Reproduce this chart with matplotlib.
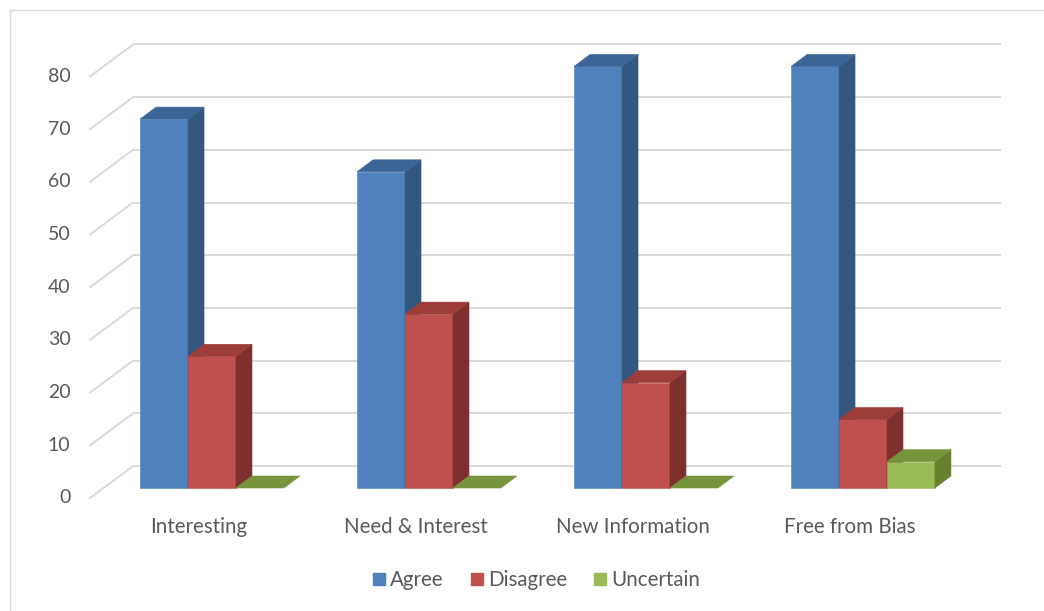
import matplotlib.pyplot as plt
from matplotlib.patches import Polygon
from matplotlib.lines import Line2D

categories = ['Interesting', 'Need & Interest', 'New Information', 'Free from Bias']
series_names = ['Agree', 'Disagree', 'Uncertain']
agree = [70, 60, 80, 80]
disagree = [25, 33, 20, 13]
uncertain = [0, 0, 0, 5]
yticks = [0, 10, 20, 30, 40, 50, 60, 70, 80]

# front, top, side shades for each series
colors = {
    'Agree': ('#4F81BD', '#3C6597', '#34577F'),
    'Disagree': ('#C0504D', '#9C3D3A', '#7E302E'),
    'Uncertain': ('#9BBB59', '#77933C', '#66802F'),
}

plt.rcParams['font.family'] = ['Lato', 'DejaVu Sans']
txt_color = '#595959'
grid_color = '#D9D9D9'
fs = 14.8

fig = plt.figure(figsize=(10.44, 6.11), dpi=100)
ax = fig.add_axes([0, 0, 1, 1])
ax.set_xlim(-0.977, 3.834)
ax.set_ylim(-23.34, 92.6)
ax.axis('off')

bar_w = 0.221
# oblique depth offsets (x in category units, y in value units)
bar_dx, bar_dy = 0.0737, 2.276
front_dx, front_dy = -0.0618, -1.896
back_dx, back_dy = 0.1364, 4.172
x_left, x_right = -0.5, 3.5

# back wall gridlines and left wall lines
for t in yticks:
    ax.plot([x_left + back_dx, x_right + back_dx], [t + back_dy, t + back_dy],
            color=grid_color, lw=1.4, zorder=1, solid_capstyle='butt')
    ax.plot([x_left + front_dx, x_left + back_dx], [t + front_dy, t + back_dy],
            color=grid_color, lw=1.4, zorder=1)
    ax.text(x_left + front_dx - 0.09, t + front_dy, str(t), ha='right', va='center',
            fontsize=14, color=txt_color)


def bar3d(x0, h, cols):
    x1 = x0 + bar_w
    front, top, side = cols
    if h > 0:
        ax.add_patch(Polygon([(x0, 0), (x1, 0), (x1, h), (x0, h)], closed=True,
                             fc=front, ec=front, lw=0.4, zorder=2))
        ax.add_patch(Polygon([(x1, 0), (x1 + bar_dx, bar_dy), (x1 + bar_dx, h + bar_dy), (x1, h)],
                             closed=True, fc=side, ec=side, lw=0.4, zorder=2))
    ax.add_patch(Polygon([(x0, h), (x1, h), (x1 + bar_dx, h + bar_dy), (x0 + bar_dx, h + bar_dy)],
                         closed=True, fc=top, ec=top, lw=0.4, zorder=2))


data = [agree, disagree, uncertain]
for i in range(len(categories)):
    for j, name in enumerate(series_names):
        x0 = i - 1.5 * bar_w + j * bar_w
        bar3d(x0, data[j][i], colors[name])
    ax.text(i + front_dx, -7.4, categories[i], ha='center', va='center',
            fontsize=fs, color=txt_color)

handles = [Line2D([], [], marker='s', ls='none', markersize=9,
                  markerfacecolor=colors[n][0], markeredgecolor=colors[n][0])
           for n in series_names]
fig.legend(handles, series_names, loc='center', bbox_to_anchor=(0.512, 0.051), ncol=3,
           frameon=False, fontsize=fs, labelcolor=txt_color, handletextpad=0.05,
           columnspacing=1.1, handlelength=1.0)

# chart border
fig.add_artist(Line2D([10 / 1044, 10 / 1044], [0, 1 - 10 / 611], transform=fig.transFigure,
                      color=grid_color, lw=1))
fig.add_artist(Line2D([10 / 1044, 1], [1 - 10 / 611, 1 - 10 / 611], transform=fig.transFigure,
                      color=grid_color, lw=1))

fig.savefig('out.png', dpi=100)
